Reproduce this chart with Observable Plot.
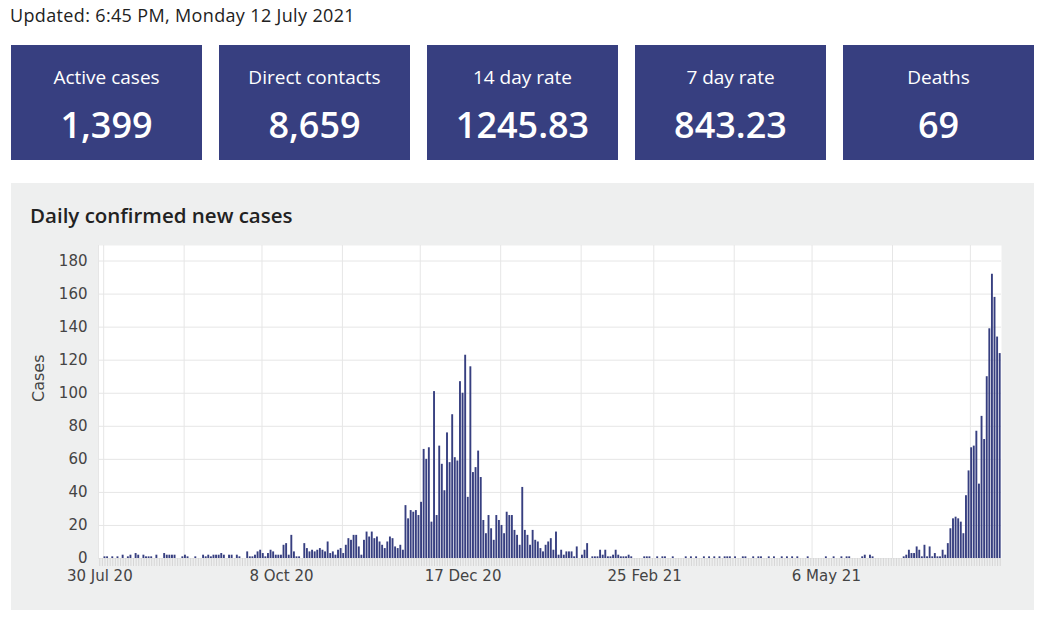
<!DOCTYPE html>
<html><head><meta charset="utf-8">
<script src="https://cdn.jsdelivr.net/npm/d3@7"></script>
<script src="https://cdn.jsdelivr.net/npm/@observablehq/plot@0.6"></script>
<style>
body{margin:0;background:#fff;width:1044px;height:620px;position:relative;overflow:hidden;font-family:"Open Sans",Lato,sans-serif;}
#updated{position:absolute;left:10px;top:4px;font-size:18px;letter-spacing:0.35px;color:#222;line-height:22px;white-space:nowrap;}
.card{position:absolute;top:45px;width:191px;height:115px;background:#373f80;color:#fff;text-align:center;}
.card .t{position:absolute;left:0;right:0;top:20px;font-size:19px;line-height:24px;}
.card .v{position:absolute;left:0;right:0;top:58px;font-size:36px;line-height:44px;font-weight:600;}
#panel{position:absolute;left:11px;top:183px;width:1023px;height:427px;background:#eeefef;}
#ptitle{position:absolute;left:19px;top:19px;font-size:20.5px;line-height:26px;font-weight:600;color:#222;white-space:nowrap;}
#chart{position:absolute;left:20px;top:236px;}
</style></head>
<body>
<div id="updated">Updated: 6:45 PM, Monday 12 July 2021</div>
<div id="cards"></div>
<div id="panel"><div id="ptitle">Daily confirmed new cases</div></div>
<div id="chart"></div>
<script>
const cardTitles = ["Active cases", "Direct contacts", "14 day rate", "7 day rate", "Deaths"];
const cardValues = ["1,399", "8,659", "1245.83", "843.23", "69"];

const startDate = "2020-07-30";
const endDate = "2021-07-13";
// daily confirmed new cases, 30 Jul 2020 .. 12 Jul 2021
const cases = [
 0,0,1,1,0,1,0,1,0,2, 0,1,2,0,3,2,0,2,1,1, 1,0,2,0,0,3,2,2,2,2,
 0,0,1,2,1,0,0,1,0,0, 2,1,2,1,2,2,2,3,2,0, 2,2,0,2,1,0,0,4,1,1,
 2,4,5,3,1,3,5,4,2,2, 2,8,9,2,14,4,1,1,0,9, 6,4,5,4,5,6,5,4,10,3,
 4,2,5,6,3,8,12,11,14,14, 7,2,11,16,13,16,12,13,10,8, 6,10,13,12,7,6,8,5,32,24,
 29,28,29,26,34,66,60,67,22,101, 26,68,57,41,76,58,87,61,59,107, 100,123,37,116,52,55,65,49,23,15,
 26,18,11,26,23,20,15,28,26,26, 17,14,8,43,17,14,8,17,11,10, 6,4,8,10,12,5,16,2,5,2,
 4,4,4,1,7,0,2,5,9,0, 1,1,1,5,2,5,1,1,2,5, 2,1,1,1,2,1,0,0,0,0,
 1,1,1,0,0,1,0,1,1,0, 0,1,0,0,0,0,1,0,1,0, 1,0,0,1,0,1,0,1,0,1,
 0,1,1,1,0,1,0,0,1,1, 0,0,1,0,1,1,0,0,1,0, 1,0,0,1,0,1,0,1,0,1,
 0,0,0,1,0,0,0,0,0,0, 1,0,0,1,0,0,1,0,1,1, 0,0,0,0,1,2,0,2,1,0,
 0,0,0,0,0,0,0,0,0,0, 1,2,5,3,3,7,5,1,8,1, 7,1,3,1,1,5,2,9,18,24,
 25,24,22,15,38,53,67,68,77,45, 86,72,110,139,172,158,134,124
];
const yTicks = [0, 20, 40, 60, 80, 100, 120, 140, 160, 180];
const yMax = 189.4;
const yLabel = "Cases";
const xTickDates = ["2020-07-30", "2020-10-08", "2020-12-17", "2021-02-25", "2021-05-06"];

// cards
const cardsEl = document.getElementById("cards");
cardTitles.forEach((t, i) => {
  const c = document.createElement("div");
  c.className = "card";
  c.style.left = (11 + i * 208) + "px";
  c.innerHTML = `<div class="t">${t}</div><div class="v">${cardValues[i]}</div>`;
  cardsEl.appendChild(c);
});

const start = new Date(startDate + "T00:00:00Z");
const end = new Date(endDate + "T00:00:00Z");
const data = cases.map((v, i) => ({date: d3.utcDay.offset(start, i), cases: v}));
const dayCenters = data.map(d => d3.utcHour.offset(d.date, 12));
const monthLines = [start, ...d3.utcMonths(start, end)];
const labelDates = xTickDates.map(s => d3.utcHour.offset(new Date(s + "T00:00:00Z"), 12));
const fmt = d3.utcFormat("%-d %b %y");

const chart = Plot.plot({
  width: 1000,
  height: 360,
  marginLeft: 78,
  marginRight: 19,
  marginTop: 9,
  marginBottom: 38,
  style: {background: "transparent", fontFamily: "'DejaVu Sans', sans-serif", fontSize: "15px", color: "#444"},
  x: {type: "utc", domain: [start, end]},
  y: {domain: [0, yMax]},
  marks: [
    Plot.frame({fill: "white", stroke: null}),
    Plot.gridY(yTicks, {stroke: "#e6e6e6", strokeOpacity: 1}),
    Plot.ruleX(monthLines, {stroke: "#e6e6e6"}),
    Plot.rectY(data, {x1: "date", x2: d => d3.utcDay.offset(d.date, 1), y: "cases", fill: "#373f80", insetLeft: 0.35, insetRight: 0.35}),
    Plot.axisX(dayCenters, {tickSize: 8, tickFormat: () => "", stroke: "#d6d6d6", label: null}),
    Plot.axisX(labelDates, {tickSize: 0, tickPadding: 12, tickFormat: fmt, fill: "#444", label: null}),
    Plot.axisY(yTicks, {tickSize: 0, tickPadding: 11, fill: "#444", label: null}),
    Plot.text([yLabel], {frameAnchor: "left", rotate: -90, dx: -60, fontSize: 16, fill: "#444"})
  ]
});
document.getElementById("chart").appendChild(chart);
</script>
</body></html>
